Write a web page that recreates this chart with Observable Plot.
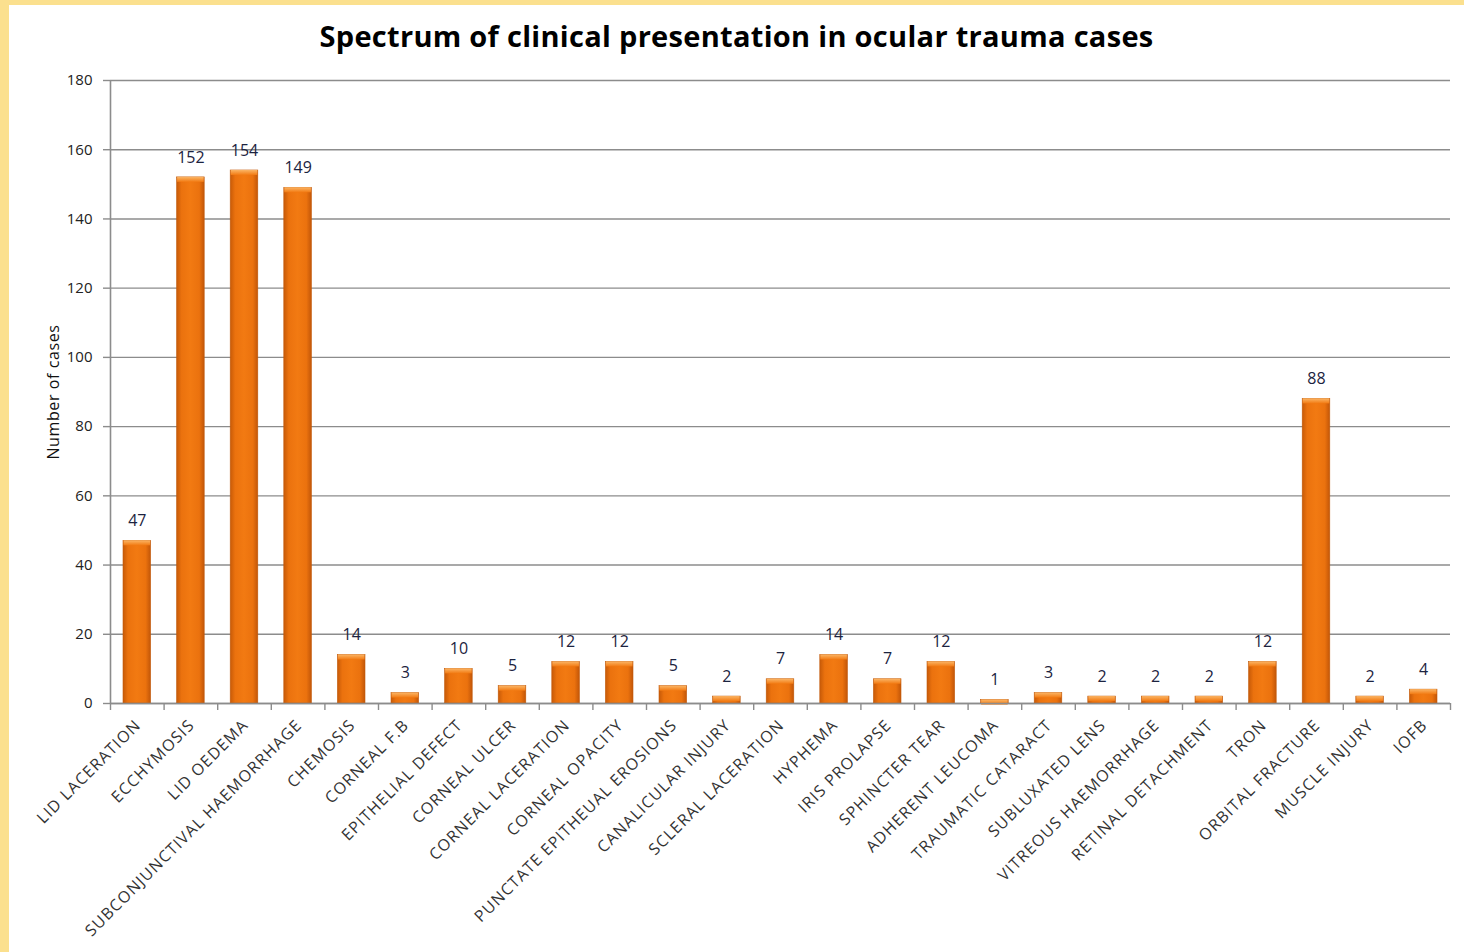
<!DOCTYPE html>
<html>
<head>
<meta charset="utf-8">
<script src="https://cdn.jsdelivr.net/npm/d3@7"></script>
<script src="https://cdn.jsdelivr.net/npm/@observablehq/plot@0.6"></script>
<style>
  html, body { margin: 0; padding: 0; }
  body { width: 1464px; height: 952px; background: #FBE08E; position: relative; overflow: hidden; }
  #panel { position: absolute; left: 9px; top: 5px; width: 1455px; height: 947px; background: #fff; }
  #title { height: 60px; line-height: 62px; text-align: center; font-family: "Open Sans", sans-serif; font-weight: 700; font-size: 29px; color: #000; letter-spacing: 0.3px; }
  #chart svg { display: block; }
</style>
</head>
<body>
<div id="panel">
  <div id="title">Spectrum of clinical presentation in ocular trauma cases</div>
  <div id="chart"></div>
</div>
<script>
const categories = [
  "LID LACERATION", "ECCHYMOSIS", "LID OEDEMA", "SUBCONJUNCTIVAL HAEMORRHAGE", "CHEMOSIS",
  "CORNEAL F.B", "EPITHELIAL DEFECT", "CORNEAL ULCER", "CORNEAL LACERATION", "CORNEAL OPACITY",
  "PUNCTATE EPITHEUAL EROSIONS", "CANALICULAR INJURY", "SCLERAL LACERATION", "HYPHEMA", "IRIS PROLAPSE",
  "SPHINCTER TEAR", "ADHERENT LEUCOMA", "TRAUMATIC CATARACT", "SUBLUXATED LENS", "VITREOUS HAEMORRHAGE",
  "RETINAL DETACHMENT", "TRON", "ORBITAL FRACTURE", "MUSCLE INJURY", "IOFB"
];
const cases = [47, 152, 154, 149, 14, 3, 10, 5, 12, 12, 5, 2, 7, 14, 7, 12, 1, 3, 2, 2, 2, 12, 88, 2, 4];
const yTicks = [0, 20, 40, 60, 80, 100, 120, 140, 160, 180];

const data = categories.map((c, i) => ({category: c, value: cases[i], i}));
const boundaries = d3.range(categories.length + 1);

const font = "Open Sans, sans-serif";
const plot = Plot.plot({
  width: 1455,
  height: 882,
  marginTop: 15,
  marginBottom: 244,
  marginLeft: 101,
  marginRight: 14,
  style: {fontFamily: font, fontSize: "15px", color: "#222", background: "transparent"},
  x: {domain: [0, categories.length], axis: null},
  y: {domain: [0, 180], axis: null},
  marks: [
    Plot.gridY(yTicks, {stroke: "#8c8c8c", strokeOpacity: 1, strokeWidth: 1.4}),
    Plot.axisY(yTicks, {tickSize: 7, tickPadding: 11, stroke: "#8c8c8c", strokeWidth: 1.4, fontSize: 15, fill: "#222", label: null, tickFormat: d => d}),
    Plot.ruleX([0], {stroke: "#8c8c8c", strokeWidth: 1.6}),
    Plot.rectY(data, {x1: "i", x2: d => d.i + 1, y: "value", insetLeft: 13, insetRight: 13, fill: "url(#barGrad)", stroke: "#C25A0A", strokeWidth: 0.6}),
    Plot.rect(data, {x1: "i", x2: d => d.i + 1, y1: "value", y2: "value", insetLeft: 13.5, insetRight: 13.5, insetBottom: -5, fill: "url(#capGrad)"}),
    Plot.ruleY([0], {stroke: "#8c8c8c", strokeWidth: 1.6}),
    Plot.axisX(boundaries, {tickSize: 7, tickFormat: () => "", stroke: "#8c8c8c", strokeWidth: 1.4, label: null}),
    Plot.text(data, {x: d => d.i + 0.5, y: 0, text: "category", rotate: -45, textAnchor: "end", lineAnchor: "middle", dx: 1, dy: 19, fontSize: 16, fill: "#333"}),
    Plot.text(data, {x: d => d.i + 0.5, y: "value", text: d => String(d.value), dy: -20, lineAnchor: "middle", fontSize: 16, fill: "#1c2340"}),
    Plot.text(["Number of cases"], {frameAnchor: "left", textAnchor: "middle", text: d => d, rotate: -90, dx: -57, fontSize: 16, fill: "#111"})
  ]
});

const svgNS = "http://www.w3.org/2000/svg";
const defs = document.createElementNS(svgNS, "defs");
defs.innerHTML = `
  <linearGradient id="barGrad" x1="0" x2="1" y1="0" y2="0">
    <stop offset="0" stop-color="#C75A08"/>
    <stop offset="0.18" stop-color="#EB720E"/>
    <stop offset="0.5" stop-color="#F27A12"/>
    <stop offset="0.82" stop-color="#EB720E"/>
    <stop offset="1" stop-color="#C25608"/>
  </linearGradient>
  <linearGradient id="capGrad" x1="0" x2="0" y1="0" y2="1">
    <stop offset="0" stop-color="#FBB565"/>
    <stop offset="1" stop-color="#F27A12"/>
  </linearGradient>`;
plot.insertBefore(defs, plot.firstChild);
// letter spacing for the wide Calibri-like category labels
const textGroups = plot.querySelectorAll('g[aria-label="text"]');
if (textGroups[0]) textGroups[0].style.letterSpacing = "1.1px";
if (textGroups[2]) textGroups[2].style.letterSpacing = "0.6px";
document.getElementById("chart").appendChild(plot);
</script>
</body>
</html>
